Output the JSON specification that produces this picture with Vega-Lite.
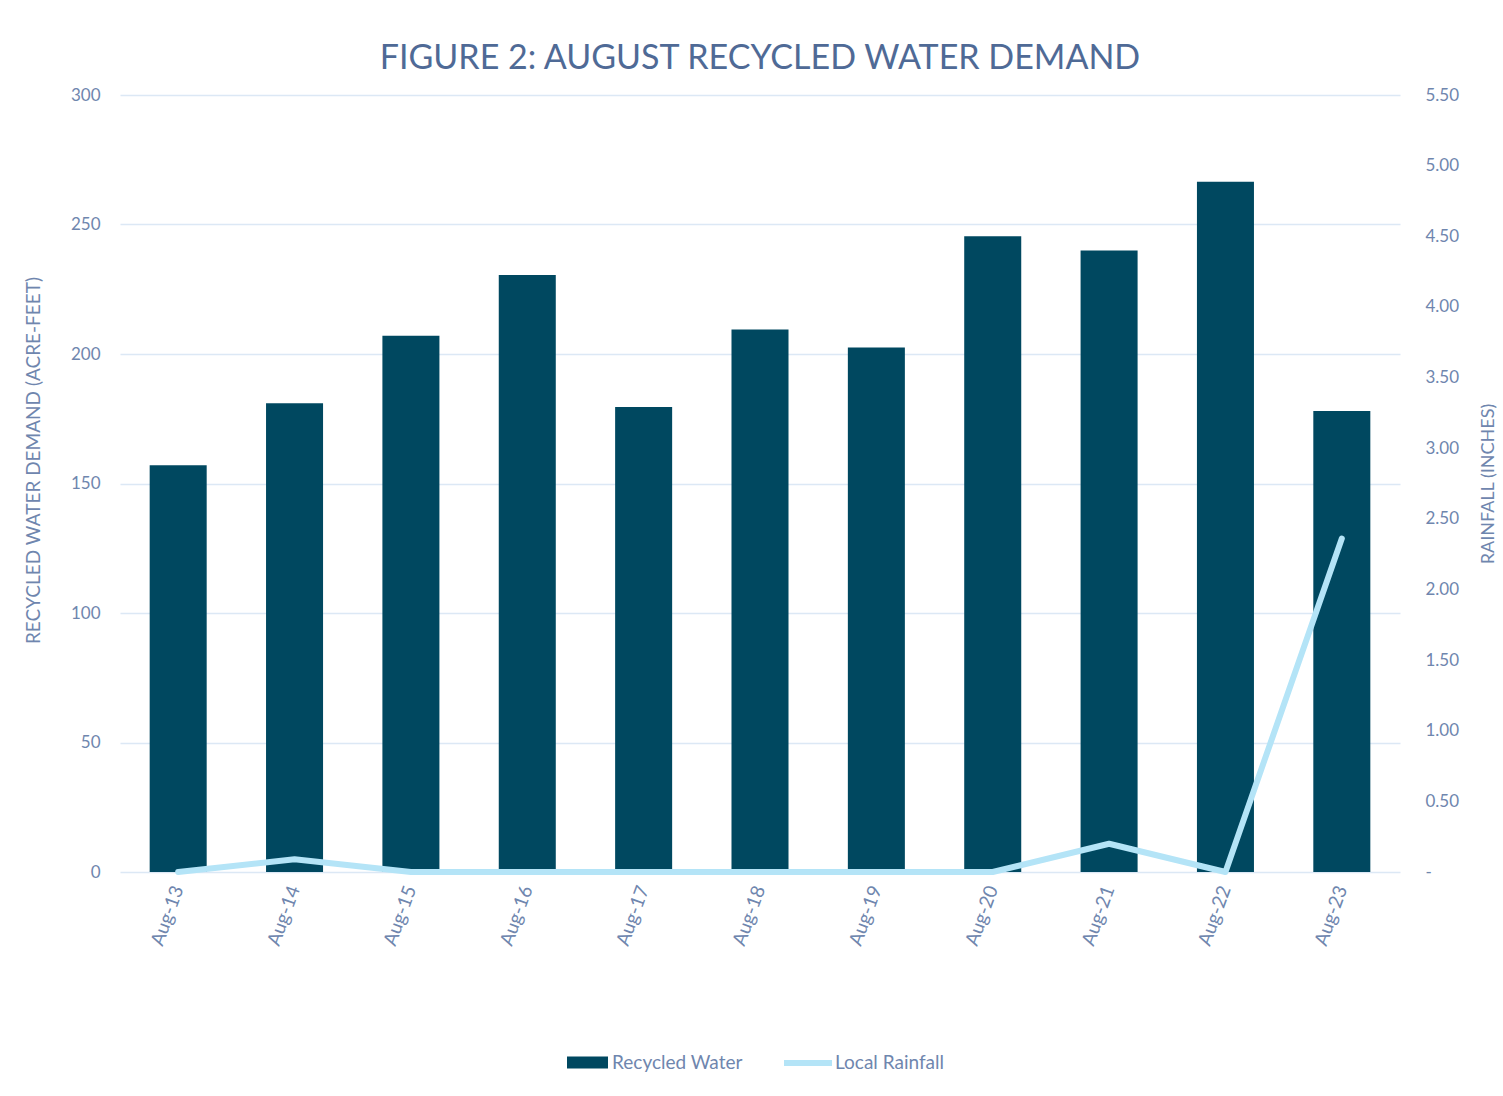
{
  "$schema": "https://vega.github.io/schema/vega-lite/v6.json",
  "autosize": {"type": "none"},
  "width": 1280,
  "height": 777,
  "padding": {"left": 120, "top": 95, "right": 103, "bottom": 224},
  "background": "white",
  "title": {
    "text": "FIGURE 2: AUGUST RECYCLED WATER DEMAND",
    "fontSize": 34,
    "font": "Lato",
    "fontWeight": "normal",
    "color": "#4f6a96",
    "anchor": "middle",
    "offset": 10
  },
  "data": {
    "values": [
      {"month": "Aug-13", "demand": 157, "rain": 0},
      {"month": "Aug-14", "demand": 181, "rain": 0.09},
      {"month": "Aug-15", "demand": 207, "rain": 0},
      {"month": "Aug-16", "demand": 230.5, "rain": 0},
      {"month": "Aug-17", "demand": 179.5, "rain": 0},
      {"month": "Aug-18", "demand": 209.5, "rain": 0},
      {"month": "Aug-19", "demand": 202.5, "rain": 0},
      {"month": "Aug-20", "demand": 245.5, "rain": 0},
      {"month": "Aug-21", "demand": 240, "rain": 0.2},
      {"month": "Aug-22", "demand": 266.5, "rain": 0},
      {"month": "Aug-23", "demand": 178, "rain": 2.36}
    ]
  },
  "encoding": {
    "x": {
      "field": "month",
      "type": "nominal",
      "sort": null,
      "scale": {"paddingInner": 0.51, "paddingOuter": 0.255},
      "axis": {
        "title": null,
        "labelAngle": -70,
        "labelFontSize": 19,
        "labelPadding": 14,
        "ticks": false,
        "domain": false,
        "labelColor": "#6f86ae",
        "labelFont": "Lato"
      }
    }
  },
  "layer": [
    {
      "mark": {"type": "bar"},
      "encoding": {
        "y": {
          "field": "demand",
          "type": "quantitative",
          "scale": {"domain": [0, 300]},
          "axis": {
            "title": "RECYCLED WATER DEMAND (ACRE-FEET)",
            "values": [0, 50, 100, 150, 200, 250, 300],
            "titleFontSize": 19,
            "titleFontWeight": "normal",
            "titleColor": "#6f86ae",
            "titleFont": "Lato",
            "titlePadding": 27,
            "titleY": 365,
            "labelFontSize": 17,
            "labelColor": "#6f86ae",
            "labelFont": "Lato",
            "labelPadding": 20,
            "ticks": false,
            "domain": false,
            "grid": true,
            "gridColor": "#dce8f5",
            "gridWidth": 1.5
          }
        },
        "fill": {
          "datum": "Recycled Water",
          "type": "nominal",
          "scale": {"range": ["#004860"]},
          "legend": {
            "orient": "none",
            "legendX": 447,
            "legendY": 947,
            "title": null,
            "symbolType": "M-1,-0.29H1V0.29H-1Z",
            "symbolSize": 1681,
            "symbolStrokeWidth": 0,
            "labelFontSize": 19,
            "labelColor": "#6f86ae",
            "labelFont": "Lato",
            "labelOffset": 4
          }
        }
      }
    },
    {
      "mark": {"type": "line", "strokeWidth": 6, "strokeCap": "round", "strokeJoin": "round"},
      "encoding": {
        "y": {
          "field": "rain",
          "type": "quantitative",
          "scale": {"domain": [0, 5.5]},
          "axis": {
            "orient": "right",
            "title": "RAINFALL (INCHES)",
            "titleAngle": -90,
            "values": [0, 0.5, 1, 1.5, 2, 2.5, 3, 3.5, 4, 4.5, 5, 5.5],
            "labelExpr": "datum.value == 0 ? '-' : format(datum.value, '.2f')",
            "titleFontSize": 18,
            "titleFontWeight": "normal",
            "titleColor": "#6f86ae",
            "titleFont": "Lato",
            "titlePadding": 39,
            "labelFontSize": 17,
            "labelColor": "#6f86ae",
            "labelFont": "Lato",
            "labelPadding": 25,
            "ticks": false,
            "domain": false,
            "grid": false
          }
        },
        "stroke": {
          "datum": "Local Rainfall",
          "type": "nominal",
          "scale": {"range": ["#b4e4f7"]},
          "legend": {
            "orient": "none",
            "legendX": 661,
            "legendY": 941,
            "title": null,
            "symbolType": "stroke",
            "symbolSize": 2304,
            "symbolStrokeWidth": 6,
            "labelFontSize": 19,
            "labelColor": "#6f86ae",
            "labelFont": "Lato",
            "labelOffset": 0
          }
        }
      }
    }
  ],
  "resolve": {"scale": {"y": "independent", "fill": "independent", "stroke": "independent"}},
  "config": {"view": {"stroke": null}}
}
